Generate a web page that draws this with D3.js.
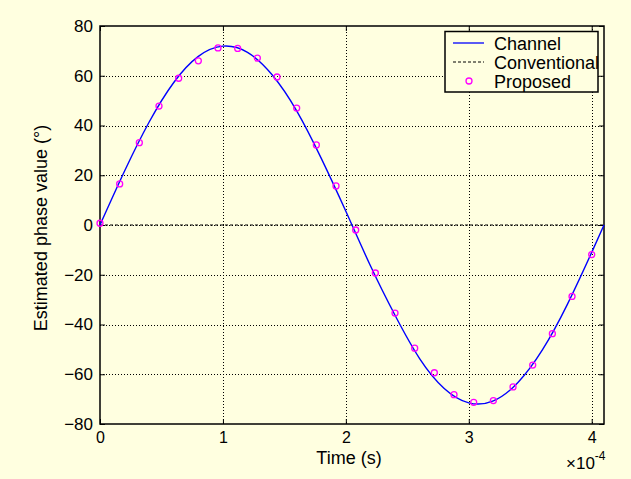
<!DOCTYPE html>
<html>
<head>
<meta charset="utf-8">
<script src="https://cdn.jsdelivr.net/npm/d3@7"></script>
<style>
  body { margin: 0; background: #ffffe0; }
  text { font-family: "Liberation Sans", Arial, sans-serif; fill: #000; }
</style>
</head>
<body>
<svg width="631" height="479"></svg>
<script>
// time is in units of 1e-4 s (axis shows the x10^-4 multiplier)
const channelTime = [0, 0.2, 0.4, 0.6, 0.8, 1.0, 1.2, 1.4, 1.6, 1.8, 2.0, 2.2, 2.4, 2.6, 2.8, 3.0, 3.2, 3.4, 3.6, 3.8, 4.0, 4.1];
const channelPhase = [0, 21.7, 41.4, 57.3, 67.8, 71.9, 69.4, 60.4, 45.9, 26.8, 5.5, -16.4, -36.3, -53.7, -65.7, -71.5, -70.7, -63.3, -50.1, -32.1, -11.0, 0];

const conventionalTime = [0, 4.1];
const conventionalPhase = [0, 0];

const proposedTime = [0, 0.16, 0.32, 0.48, 0.64, 0.8, 0.96, 1.12, 1.28, 1.44, 1.6, 1.76, 1.92, 2.08, 2.24, 2.4, 2.56, 2.72, 2.88, 3.04, 3.2, 3.36, 3.52, 3.68, 3.84, 4.0];
const proposedPhase = [0.7, 16.5, 33.1, 47.8, 59, 66, 71.2, 71, 67.1, 59.5, 47, 32.2, 15.7, -2, -19.3, -35.4, -49.5, -59.4, -68.2, -71.3, -70.6, -65.1, -56.3, -43.7, -28.7, -11.9];

const xTicks = [0, 1, 2, 3, 4];
const yTicks = [-80, -60, -40, -20, 0, 20, 40, 60, 80];
const seriesNames = ["Channel", "Conventional", "Proposed"];

const svg = d3.select("svg");
const bg = "#ffffe0";
const pLeft = 100, pTop = 26, pRight = 604, pBottom = 424;

svg.append("rect").attr("width", 631).attr("height", 479).attr("fill", bg);

const x = d3.scaleLinear().domain([0, 4.1]).range([pLeft, pRight]);
const y = d3.scaleLinear().domain([-80, 80]).range([pBottom, pTop]);

// dotted grid
const grid = svg.append("g").attr("stroke", "#000").attr("stroke-width", 1).attr("stroke-dasharray", "1,2");
grid.selectAll(".gx").data(xTicks.filter(d => d > 0))
  .enter().append("line")
  .attr("x1", d => Math.round(x(d)) + 0.5).attr("x2", d => Math.round(x(d)) + 0.5)
  .attr("y1", pTop).attr("y2", pBottom);
grid.selectAll(".gy").data(yTicks.filter(d => d > -80 && d < 80))
  .enter().append("line")
  .attr("y1", d => Math.round(y(d)) + 0.5).attr("y2", d => Math.round(y(d)) + 0.5)
  .attr("x1", pLeft).attr("x2", pRight);

// axes, ticks pointing inward like matlab
const fmt = d3.format("d");
svg.append("g").attr("transform", `translate(${pLeft},0)`)
  .call(d3.axisLeft(y).tickValues(yTicks).tickSize(-5).tickPadding(7).tickFormat(fmt));
svg.append("g").attr("transform", `translate(${pRight},0)`)
  .call(d3.axisRight(y).tickValues(yTicks).tickSize(-5).tickFormat(""));
svg.append("g").attr("class", "xb").attr("transform", `translate(0,${pBottom})`)
  .call(d3.axisBottom(x).tickValues(xTicks).tickSize(-5).tickPadding(8).tickFormat(fmt));
svg.append("g").attr("transform", `translate(0,${pTop})`)
  .call(d3.axisTop(x).tickValues(xTicks).tickSize(-5).tickFormat(""));

svg.selectAll(".domain").remove();
svg.selectAll(".tick line").attr("stroke", "#000");
svg.selectAll(".tick text").attr("font-size", 17).attr("font-family", "Liberation Sans, Arial, sans-serif");
svg.selectAll(".xb .tick text").attr("font-size", 16);

svg.append("rect")
  .attr("x", pLeft).attr("y", pTop).attr("width", pRight - pLeft).attr("height", pBottom - pTop)
  .attr("fill", "none").attr("stroke", "#000").attr("stroke-width", 1.5);

// series
const line = d3.line().x(d => x(d[0])).y(d => y(d[1]));

svg.append("path")
  .datum(conventionalTime.map((t, i) => [t, conventionalPhase[i]]))
  .attr("d", line)
  .attr("fill", "none").attr("stroke", "#000").attr("stroke-width", 1).attr("stroke-dasharray", "3,2");

svg.append("path")
  .datum(channelTime.map((t, i) => [t, channelPhase[i]]))
  .attr("d", line.curve(d3.curveNatural))
  .attr("fill", "none").attr("stroke", "#0000ff").attr("stroke-width", 1.4);

svg.selectAll(".pt").data(proposedTime.map((t, i) => [t, proposedPhase[i]]))
  .enter().append("circle")
  .attr("cx", d => x(d[0])).attr("cy", d => y(d[1])).attr("r", 3)
  .attr("fill", "none").attr("stroke", "#ff00ff").attr("stroke-width", 1.3);

// labels
svg.append("text").attr("x", 349).attr("y", 464).attr("text-anchor", "middle")
  .attr("font-size", 18).text("Time (s)");
svg.append("text").attr("transform", "translate(47,228) rotate(-90)").attr("text-anchor", "middle")
  .attr("font-size", 18).text("Estimated phase value (°)");
const mult = svg.append("text").attr("x", 566).attr("y", 469).attr("font-size", 17);
mult.append("tspan").text("×10");
mult.append("tspan").attr("font-size", 12).attr("dy", -9).text("-4");

// legend
const lg = svg.append("g");
lg.append("rect").attr("x", 445).attr("y", 31.5).attr("width", 153).attr("height", 60.5)
  .attr("fill", bg).attr("stroke", "#000").attr("stroke-width", 1.5);
const rowY = [43, 62, 81];
seriesNames.forEach((name, i) => {
  const yy = rowY[i];
  if (i === 0) {
    lg.append("line").attr("x1", 453).attr("x2", 484).attr("y1", yy).attr("y2", yy)
      .attr("stroke", "#0000ff").attr("stroke-width", 1.3);
  } else if (i === 1) {
    lg.append("line").attr("x1", 453).attr("x2", 484).attr("y1", yy).attr("y2", yy)
      .attr("stroke", "#000").attr("stroke-dasharray", "3,2");
  } else {
    lg.append("circle").attr("cx", 469).attr("cy", yy).attr("r", 3)
      .attr("fill", "none").attr("stroke", "#ff00ff").attr("stroke-width", 1.3);
  }
  lg.append("text").attr("x", 494).attr("y", yy + 7).attr("font-size", 18).text(name);
});
</script>
</body>
</html>
